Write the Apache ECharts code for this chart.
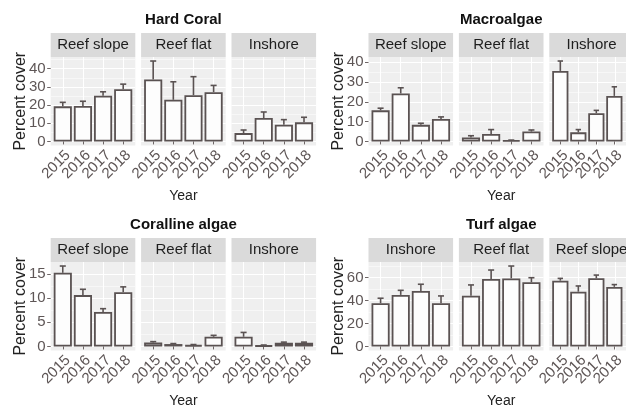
<!DOCTYPE html>
<html>
<head>
<meta charset="utf-8">
<script src="https://cdn.jsdelivr.net/npm/echarts@6/dist/echarts.min.js"></script>
<style>
  html, body { margin: 0; padding: 0; background: #ffffff; }
  #chart { width: 626px; height: 410px; }
</style>
</head>
<body>
<div id="chart"></div>
<script>
// Survey years (x categories, shared by every facet)
const years = ['2015', '2016', '2017', '2018'];

// Hard coral: mean percent cover and standard error
const hardCoralSlope = [19.3, 19.5, 25.1, 28.7];
const hardCoralSlopeSE = [2.2, 2.6, 2.2, 2.8];
const hardCoralFlat = [34.1, 22.9, 25.4, 27.1];
const hardCoralFlatSE = [10.1, 9.9, 10.2, 3.7];
const hardCoralInshore = [4.6, 12.9, 9.2, 10.5];
const hardCoralInshoreSE = [1.7, 3.3, 2.8, 2.8];

// Macroalgae
const macroSlope = [15.7, 24.2, 8.4, 11.4];
const macroSlopeSE = [1.1, 2.9, 0.8, 1.0];
const macroFlat = [2.0, 3.8, 0.6, 5.0];
const macroFlatSE = [0.9, 2.2, 0.1, 0.8];
const macroInshore = [35.6, 4.6, 14.3, 23.0];
const macroInshoreSE = [5.0, 1.4, 1.4, 4.6];

// Coralline algae
const corallineSlope = [15.2, 10.6, 7.1, 11.2];
const corallineSlopeSE = [1.4, 1.2, 0.7, 1.1];
const corallineFlat = [0.8, 0.5, 0.3, 2.0];
const corallineFlatSE = [0.2, 0.1, 0.1, 0.3];
const corallineInshore = [2.0, 0.2, 0.75, 0.75];
const corallineInshoreSE = [0.9, 0.1, 0.15, 0.15];

// Turf algae (facets ordered Inshore, Reef flat, Reef slope)
const turfInshore = [37.7, 45.0, 48.4, 37.7];
const turfInshoreSE = [4.4, 4.0, 5.9, 6.4];
const turfFlat = [44.3, 58.9, 59.4, 56.0];
const turfFlatSE = [9.4, 7.8, 10.8, 4.0];
const turfSlope = [57.4, 47.8, 59.5, 52.0];
const turfSlopeSE = [2.0, 5.0, 2.8, 2.0];

// Y-axis tick labels per panel (major) and minor grid positions
const hardCoralTicks = [0, 10, 20, 30, 40];
const hardCoralMinor = [5, 15, 25, 35, 45];
const macroTicks = [0, 10, 20, 30, 40];
const macroMinor = [5, 15, 25, 35];
const corallineTicks = [0, 5, 10, 15];
const corallineMinor = [2.5, 7.5, 12.5];
const turfTicks = [0, 20, 40, 60];
const turfMinor = [10, 30, 50, 70];

const panels = [
  { title: 'Hard Coral', col: 0, row: 0, ticks: hardCoralTicks, minor: hardCoralMinor,
    facets: [['Reef slope', hardCoralSlope, hardCoralSlopeSE],
             ['Reef flat', hardCoralFlat, hardCoralFlatSE],
             ['Inshore', hardCoralInshore, hardCoralInshoreSE]] },
  { title: 'Macroalgae', col: 1, row: 0, ticks: macroTicks, minor: macroMinor,
    facets: [['Reef slope', macroSlope, macroSlopeSE],
             ['Reef flat', macroFlat, macroFlatSE],
             ['Inshore', macroInshore, macroInshoreSE]] },
  { title: 'Coralline algae', col: 0, row: 1, ticks: corallineTicks, minor: corallineMinor,
    facets: [['Reef slope', corallineSlope, corallineSlopeSE],
             ['Reef flat', corallineFlat, corallineFlatSE],
             ['Inshore', corallineInshore, corallineInshoreSE]] },
  { title: 'Turf algae', col: 1, row: 1, ticks: turfTicks, minor: turfMinor,
    facets: [['Inshore', turfInshore, turfInshoreSE],
             ['Reef flat', turfFlat, turfFlatSE],
             ['Reef slope', turfSlope, turfSlopeSE]] }
];

// Layout of the 2 x 2 arrangement of faceted panels
const COL_LEFT = [50.7, 368.5];
const ROW_TOP = [57, 262];
const FACET_W = 84.6;
const FACET_STEP = 90.4;
const PLOT_H = 88.5;
const STRIP_H = 24;
// discrete scale padding: 0.6 of a category on each side, bands of 1
const UNIT = FACET_W / 4.2;

const FONT = "'Liberation Sans', Arial, sans-serif";
const INK = '#5a5252';
const LABEL = '#5e5656';
const TICK = '#6e6666';

const grids = [], xAxes = [], yAxes = [], series = [], graphics = [];

panels.forEach(function (p) {
  // shared y scale across facets, padded 5% each side
  let top = 0;
  p.facets.forEach(function (f) {
    f[1].forEach(function (v, i) { top = Math.max(top, v + f[2][i]); });
  });
  const yMin = -0.05 * top, yMax = 1.05 * top;
  const left0 = COL_LEFT[p.col], gTop = ROW_TOP[p.row];

  graphics.push({
    type: 'text', x: left0 + (2 * FACET_STEP + FACET_W) / 2, y: gTop - STRIP_H - 13,
    style: { text: p.title, font: 'bold 15px ' + FONT, fill: '#111',
             textAlign: 'center', textVerticalAlign: 'middle' }
  });
  graphics.push({
    type: 'text', x: left0 - 30, y: gTop + PLOT_H / 2, rotation: Math.PI / 2,
    style: { text: 'Percent cover', font: '16px ' + FONT, fill: '#222',
             textAlign: 'center', textVerticalAlign: 'middle' }
  });

  p.facets.forEach(function (f, k) {
    const left = left0 + k * FACET_STEP;

    // --- panel background, grid lines and y axis ---
    const gb = grids.length;
    grids.push({ left: left, top: gTop, width: FACET_W, height: PLOT_H,
                 show: true, backgroundColor: '#efefef', borderWidth: 0 });
    const tickPos = years.map(function (_, i) { return i + 1; });
    xAxes.push({
      gridIndex: gb, type: 'value', min: 0.4, max: 4.6,
      axisLine: { show: false },
      axisTick: { show: false, customValues: tickPos },
      axisLabel: { show: false, customValues: tickPos },
      splitLine: { show: true, lineStyle: { color: '#ffffff', width: 1 } }
    });
    yAxes.push({
      gridIndex: gb, type: 'value', min: yMin, max: yMax,
      axisLine: { show: false },
      axisTick: { show: k === 0, customValues: p.ticks, length: 3.5,
                  lineStyle: { color: TICK, width: 1 } },
      axisLabel: { show: k === 0, customValues: p.ticks, margin: 5,
                   fontSize: 15, color: LABEL, fontFamily: FONT },
      splitLine: { show: true, lineStyle: { color: '#ffffff', width: 1 } }
    });
    xAxes.push({
      gridIndex: gb, type: 'value', min: 0.4, max: 4.6, show: false
    });
    yAxes.push({
      gridIndex: gb, type: 'value', min: yMin, max: yMax, position: 'left',
      axisLine: { show: false },
      axisTick: { show: false, customValues: p.minor },
      axisLabel: { show: false, customValues: p.minor },
      splitLine: { show: true, lineStyle: { color: '#ffffff', width: 0.5 } }
    });

    // strip with facet name
    graphics.push({
      type: 'rect', shape: { x: left, y: gTop - STRIP_H, width: FACET_W, height: STRIP_H },
      style: { fill: '#dadada' }, silent: true
    });
    graphics.push({
      type: 'text', x: left + FACET_W / 2, y: gTop - STRIP_H / 2,
      style: { text: f[0], font: '15px ' + FONT, fill: '#1e1e1e',
               textAlign: 'center', textVerticalAlign: 'middle' }
    });

    // --- data grid: category bands inset by the discrete padding ---
    const gd = grids.length;
    grids.push({ left: left + 0.1 * UNIT, top: gTop, width: 4 * UNIT, height: PLOT_H,
                 show: false });
    const xi = xAxes.length;
    xAxes.push({
      gridIndex: gd, type: 'category', data: years, boundaryGap: true,
      name: (k === 1 ? 'Year' : ''), nameLocation: 'middle', nameGap: 44,
      nameTextStyle: { fontSize: 14, color: '#222', fontFamily: FONT },
      axisLine: { show: false },
      axisTick: { show: true, alignWithLabel: true, interval: 0, length: 3,
                  lineStyle: { color: TICK, width: 1 } },
      axisLabel: { show: true, interval: 0, rotate: 45, margin: 2,
                   verticalAlign: 'top', align: 'right',
                   fontSize: 15, color: LABEL, fontFamily: FONT },
      splitLine: { show: false }
    });
    const yi = yAxes.length;
    yAxes.push({
      gridIndex: gd, type: 'value', min: yMin, max: yMax, show: false,
      splitLine: { show: false }
    });

    series.push({
      type: 'custom', xAxisIndex: xi, yAxisIndex: yi, z: 2,
      data: f[1].map(function (v, i) { return [i, v, f[2][i]]; }),
      renderItem: function (params, api) {
        const x = api.value(0), m = api.value(1), s = api.value(2);
        const a = api.coord([x, m]), b = api.coord([x, m + s]);
        const half = api.size([1, 0])[0] * 0.15;
        const st = { stroke: INK, lineWidth: 1.6 };
        return { type: 'group', children: [
          { type: 'line', shape: { x1: a[0], y1: a[1], x2: b[0], y2: b[1] }, style: st },
          { type: 'line', shape: { x1: b[0] - half, y1: b[1], x2: b[0] + half, y2: b[1] }, style: st }
        ] };
      }
    });
    series.push({
      type: 'bar', xAxisIndex: xi, yAxisIndex: yi, z: 3,
      barWidth: '90%',
      data: f[1],
      itemStyle: { color: '#fdfdfd', borderColor: INK, borderWidth: 1.8 },
      emphasis: { disabled: true }
    });
  });
});

const chart = echarts.init(document.getElementById('chart'), null, { renderer: 'canvas' });
chart.setOption({
  animation: false,
  backgroundColor: '#ffffff',
  textStyle: { fontFamily: FONT },
  grid: grids,
  xAxis: xAxes,
  yAxis: yAxes,
  series: series,
  graphic: graphics
});
</script>
</body>
</html>
